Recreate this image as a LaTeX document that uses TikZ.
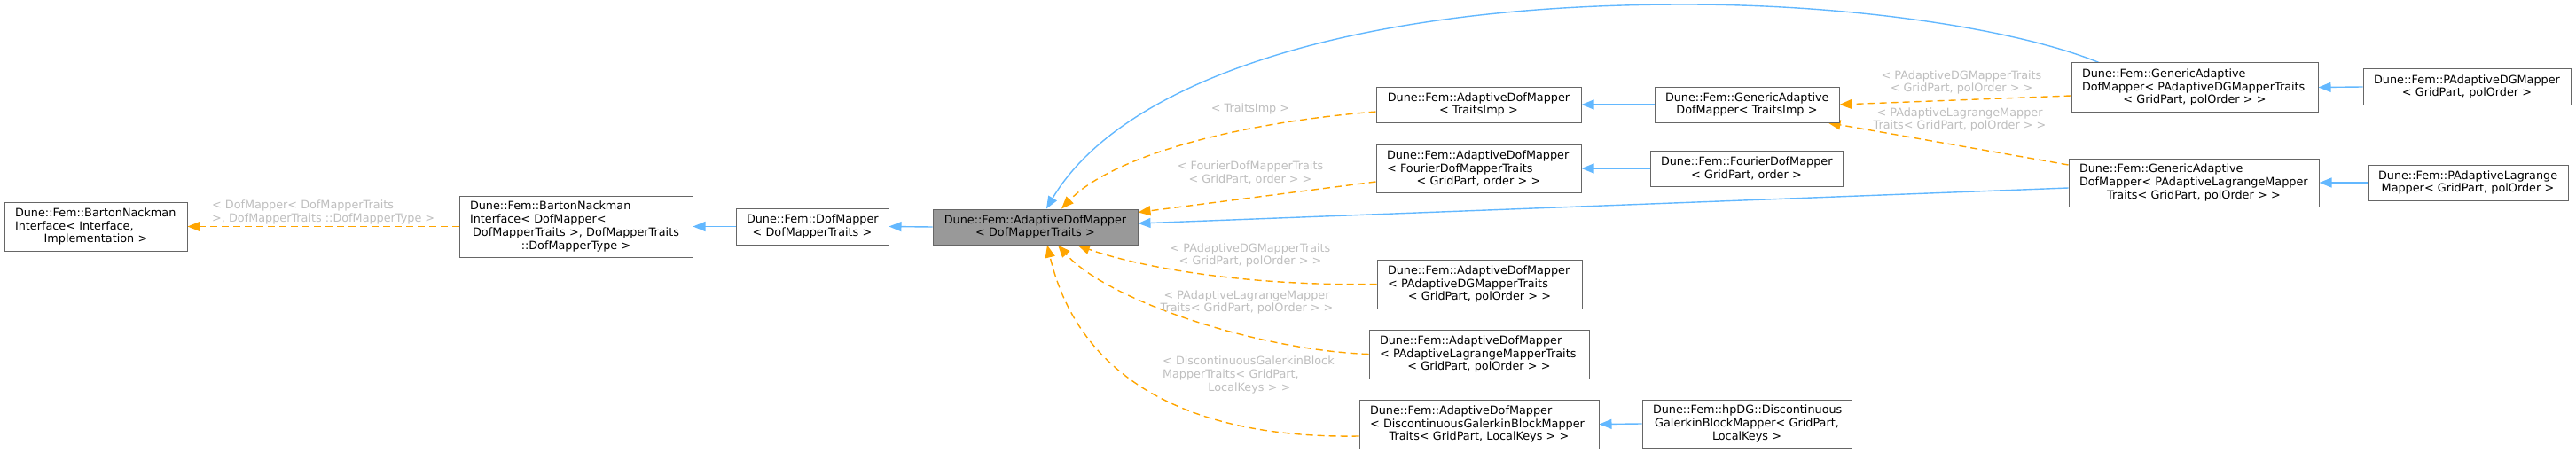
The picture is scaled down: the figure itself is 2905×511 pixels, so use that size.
\documentclass[tikz,border=0pt]{standalone}
\usepackage{fontspec}
\usetikzlibrary{arrows.meta}
\pgfdeclarelayer{background}
\pgfsetlayers{background,main}
\newfontfamily\dejavu{DejaVu Sans}
\newcommand\dxfont{\dejavu\fontsize{12.8pt}{14.8pt}\selectfont}
\newcommand\lft[1]{\leavevmode\hbox to \linewidth{#1\hfil}}
\definecolor{boxline}{HTML}{666666}
\definecolor{boxgrey}{HTML}{999999}
\definecolor{pubblue}{HTML}{63B8FF}
\definecolor{tmplorange}{HTML}{FFA500}
\definecolor{lblgrey}{HTML}{BEBEBE}

\begin{document}
\begin{tikzpicture}
  [
    x = 1pt,
    y = -1pt,
    font = \dxfont,
    cls/.style = {
      draw = boxline,
      fill = white,
      line width = 1pt,
      inner xsep = 12pt,
      inner ysep = 0pt,
      align = center,
    },
    current/.style = {
      cls,
      fill = boxgrey,
    },
    lbl/.style = {
      text = lblgrey,
      inner sep = 0pt,
      align = center,
    },
    pub/.style = {
      draw = pubblue,
      line width = 1.4pt,
    },
    tmpl/.style = {
      draw = tmplorange,
      line width = 1.4pt,
      dash pattern = on 8pt off 5pt,
    },
    > = {Triangle[length=14pt,width=11pt]},
  ]
  \useasboundingbox (0,0) rectangle (2905,511);

  \node (bni) [cls, text width = 182pt, minimum height = 55pt] at (108,255.5)
    {\lft{Dune::Fem::BartonNackman}\\ \lft{Interface< Interface,}\\ Implementation >};
  \node (bnidm) [cls, text width = 239pt, minimum height = 69pt] at (649.5,255.5)
    {\lft{Dune::Fem::BartonNackman}\\ \lft{Interface< DofMapper<}\\ DofMapperTraits >, DofMapperTraits\\ ::DofMapperType >};
  \node (dofmapper) [cls, text width = 148pt, minimum height = 41pt] at (916,255.5)
    {Dune::Fem::DofMapper\\ < DofMapperTraits >};
  \node (adm) [current, text width = 207pt, minimum height = 40pt] at (1167.5,256)
    {Dune::Fem::AdaptiveDofMapper\\ < DofMapperTraits >};

  \node (admti) [cls, text width = 207pt, minimum height = 40pt] at (1667.5,118)
    {Dune::Fem::AdaptiveDofMapper\\ < TraitsImp >};
  \node (admfo) [cls, text width = 207pt, minimum height = 54pt] at (1667.5,190)
    {\lft{Dune::Fem::AdaptiveDofMapper}\\ \lft{< FourierDofMapperTraits}\\ < GridPart, order > >};
  \node (admdg) [cls, text width = 207pt, minimum height = 55pt] at (1668.5,320.5)
    {\lft{Dune::Fem::AdaptiveDofMapper}\\ \lft{< PAdaptiveDGMapperTraits}\\ < GridPart, polOrder > >};
  \node (admla) [cls, text width = 224pt, minimum height = 55pt] at (1668,399.5)
    {\lft{Dune::Fem::AdaptiveDofMapper}\\ \lft{< PAdaptiveLagrangeMapperTraits}\\ < GridPart, polOrder > >};
  \node (admdgb) [cls, text width = 246pt, minimum height = 55pt] at (1668,478.5)
    {\lft{Dune::Fem::AdaptiveDofMapper}\\ \lft{< DiscontinuousGalerkinBlockMapper}\\ Traits< GridPart, LocalKeys > >};

  \node (gati) [cls, text width = 184pt, minimum height = 40pt] at (1970,118)
    {Dune::Fem::GenericAdaptive\\ DofMapper< TraitsImp >};
  \node (fourier) [cls, text width = 193pt, minimum height = 40pt] at (1969.5,190)
    {Dune::Fem::FourierDofMapper\\ < GridPart, order >};
  \node (hpdg) [cls, text width = 212pt, minimum height = 54pt] at (1970,478)
    {Dune::Fem::hpDG::Discontinuous\\ GalerkinBlockMapper< GridPart,\\ LocalKeys >};

  \node (gadg) [cls, text width = 254pt, minimum height = 55pt] at (2475,98.5)
    {\lft{Dune::Fem::GenericAdaptive}\\ \lft{DofMapper< PAdaptiveDGMapperTraits}\\ < GridPart, polOrder > >};
  \node (gala) [cls, text width = 258pt, minimum height = 54pt] at (2474,206)
    {\lft{Dune::Fem::GenericAdaptive}\\ \lft{DofMapper< PAdaptiveLagrangeMapper}\\ Traits< GridPart, polOrder > >};
  \node (padg) [cls, text width = 210pt, minimum height = 40pt] at (2782,98)
    {Dune::Fem::PAdaptiveDGMapper\\ < GridPart, polOrder >};
  \node (pala) [cls, text width = 202pt, minimum height = 40pt] at (2783,206)
    {Dune::Fem::PAdaptiveLagrange\\ Mapper< GridPart, polOrder >};

  \node (l-bni) [lbl, anchor = west, align = left] at (239,239.5)
    {< DofMapper< DofMapperTraits\\ >, DofMapperTraits ::DofMapperType >};
  \node (l-ti) [lbl] at (1410,123) {< TraitsImp >};
  \node (l-fo) [lbl] at (1410,194.5) {< FourierDofMapperTraits\\ < GridPart, order > >};
  \node (l-dg) [lbl] at (1410,288) {< PAdaptiveDGMapperTraits\\ < GridPart, polOrder > >};
  \node (l-la) [lbl] at (1406,341) {< PAdaptiveLagrangeMapper\\ Traits< GridPart, polOrder > >};
  \node (l-dgb) [lbl, text width = 196pt] at (1409,423)
    {\lft{< DiscontinuousGalerkinBlock}\\ \lft{MapperTraits< GridPart,}\\ LocalKeys > >};
  \node (l-gdg) [lbl] at (2212,93) {< PAdaptiveDGMapperTraits\\ < GridPart, polOrder > >};
  \node (l-gla) [lbl] at (2210,135) {< PAdaptiveLagrangeMapper\\ Traits< GridPart, polOrder > >};

  \begin{pgfonlayer}{background}
    \draw [tmpl, ->] (bnidm.west) -- (bni.east);
    \draw [pub, ->] (dofmapper.west) -- (bnidm.east);
    \draw [pub, ->] (adm.west) -- (dofmapper.east);

    \draw [tmpl, ->] ([yshift=-8pt] admti.west) .. controls (1380,140) and (1250,180) .. ([xshift=29.5pt] adm.north);
    \draw [tmpl, ->] ([yshift=-15pt] admfo.west) -- ([yshift=-4pt] adm.north east);
    \draw [pub, ->] ([yshift=-6pt] gala.west) -- ([yshift=4pt] adm.east);
    \coordinate (arc top) at (1900,5);
    \draw [pub, ->] ([xshift=-108pt] gadg.north) .. controls (2280,35) and (2100,5) .. (arc top)
      .. controls (1500,5) and (1260,100) .. ([xshift=12.5pt] adm.north);
    \draw [tmpl, ->] (admdg.west) .. controls (1400,323) and (1280,300) .. ([xshift=47.5pt] adm.south);
    \draw [tmpl, ->] (admla.west) .. controls (1420,395) and (1250,340) .. ([xshift=25.5pt] adm.south);
    \draw [tmpl, ->] ([yshift=-13.5pt] admdgb.west) .. controls (1330,495) and (1215,420) .. ([xshift=13.5pt] adm.south);

    \draw [pub, ->] (gati.west) -- (admti.east);
    \draw [pub, ->] (fourier.west) -- (admfo.east);
    \draw [pub, ->] (hpdg.west) -- (admdgb.east);
    \draw [tmpl, ->] ([yshift=-9.5pt] gadg.west) -- (gati.east);
    \draw [tmpl, ->] ([yshift=20pt] gala.west) -- ([xshift=-13pt] gati.south east);
    \draw [pub, ->] (padg.west) -- (gadg.east);
    \draw [pub, ->] (pala.west) -- (gala.east);
  \end{pgfonlayer}

\end{tikzpicture}
\end{document}
